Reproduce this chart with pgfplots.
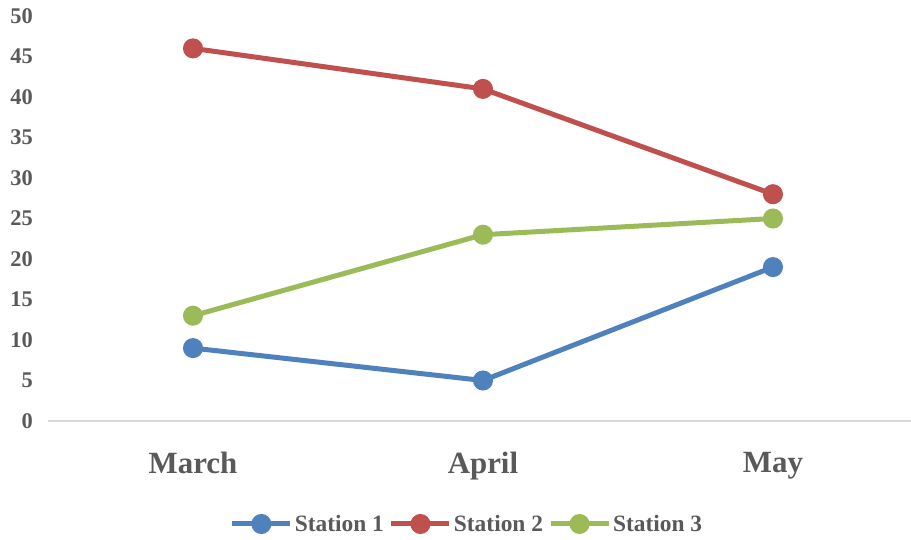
\documentclass[border=0pt]{standalone}
\usepackage{fontspec}
\setmainfont{Liberation Serif}
\usepackage{pgfplots}
\pgfplotsset{compat=1.18}

\definecolor{txt}{HTML}{595959}
\definecolor{axisgray}{HTML}{D9D9D9}
\definecolor{sone}{HTML}{4F81BD}
\definecolor{stwo}{HTML}{C0504D}
\definecolor{sthree}{HTML}{9BBB59}

\begin{document}
\begin{tikzpicture}
\begin{axis}[
  scale only axis,
  width=863bp, height=405bp,
  xmin=-0.5, xmax=2.476,
  ymin=0, ymax=50,
  ytick={0,5,...,50},
  xtick={0,1,2},
  xticklabels={March,April,May},
  axis x line*=bottom,
  axis y line*=left,
  x axis line style={draw=axisgray, line width=1.5bp, -},
  y axis line style={draw=none},
  major tick length=0pt,
  tick style={draw=none},
  /pgf/number format/assume math mode=true,
  yticklabel style={font=\fontsize{22.5}{26}\selectfont\bfseries, text=txt, anchor=east, inner sep=0pt, xshift=-15bp},
  xticklabel style={font=\fontsize{31}{34}\selectfont\bfseries, text=txt, anchor=north, inner sep=0pt, yshift=-31bp},
  legend columns=3,
  legend style={
    at={(0.4855,-0.2543)}, anchor=center, draw=none, fill=none,
    font=\fontsize{23.5}{27}\selectfont\bfseries, text=txt,
    /tikz/every even column/.append style={column sep=3bp},
    inner sep=0pt,
  },
  legend image code/.code={
    \draw[mark repeat=2, mark phase=2, #1] plot coordinates {(0bp,0bp) (29bp,0bp) (58bp,0bp)};
  },
  every axis plot/.append style={line width=5bp, mark=*, mark size=7.5bp},
  clip=false,
]
\addplot[color=sone, mark options={draw=none, fill=sone}] coordinates {(0,9) (1,5) (2,19)};
\addlegendentry{Station 1}
\addplot[color=stwo, mark options={draw=none, fill=stwo}] coordinates {(0,46) (1,41) (2,28)};
\addlegendentry{Station 2}
\addplot[color=sthree, mark options={draw=none, fill=sthree}] coordinates {(0,13) (1,23) (2,25)};
\addlegendentry{Station 3}
\end{axis}
\pgfresetboundingbox
\path (current axis.south west) ++(-48bp,-119bp) coordinate (bbsw);
\path (current axis.north east) ++(0bp,16bp) coordinate (bbne);
\path (bbsw) rectangle (bbne);
\end{tikzpicture}
\end{document}
